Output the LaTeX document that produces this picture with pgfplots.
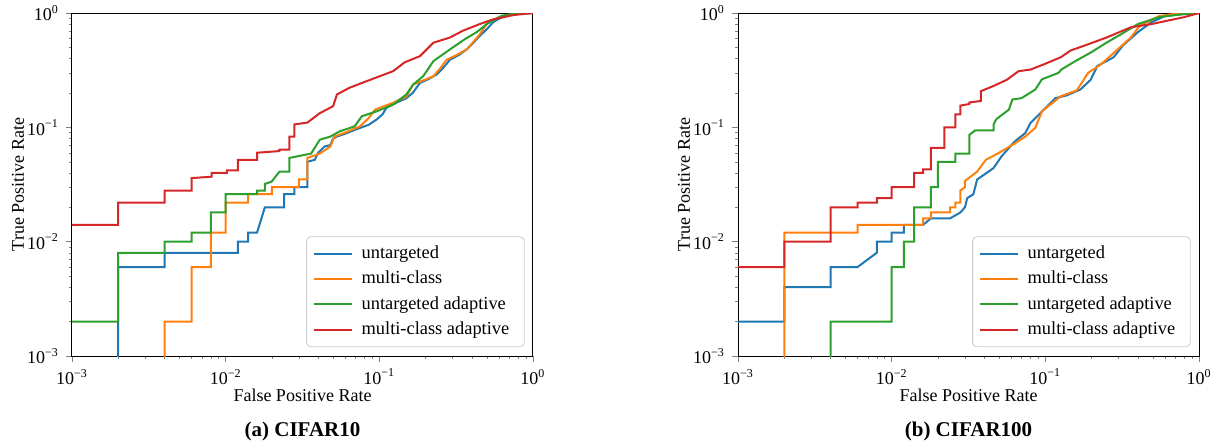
\documentclass[border=0pt]{standalone}
\usepackage{fontspec}
\setmainfont{Liberation Serif}
\usepackage{pgfplots}
\pgfplotsset{compat=1.18}

\definecolor{c0}{HTML}{1F77B4}
\definecolor{c1}{HTML}{FF7F0E}
\definecolor{c2}{HTML}{2CA02C}
\definecolor{c3}{HTML}{D62728}

\newcommand{\logtick}{%
  \pgfmathtruncatemacro{\e}{round(\tick/2.302585)}%
  10\textsuperscript{\ifnum\e<0 −\the\numexpr-\e\relax\else\e\fi}}

\pgfplotsset{
  legend image code/.code={\draw[#1] (0pt,0pt) -- (19pt,0pt);},
  every axis/.append style={
    scale only axis, width=230.5pt, height=171.5pt,
    xmin=1e-3, xmax=1, ymin=1e-3, ymax=1,
    clip mode=individual,
    tick pos=left, tick align=outside,
    major tick length=3pt, minor tick length=1.5pt,
    axis line style={line width=0.5pt},
    font=\fontsize{9}{11}\selectfont,
    xticklabel={\logtick}, yticklabel={\logtick},
    xlabel={False Positive Rate}, ylabel={True Positive Rate},
    xlabel style={at={(axis description cs:0.5,-0.114)}, anchor=center},
    ylabel style={at={(axis description cs:-0.117,0.5)}, anchor=center},
    legend style={at={(0.982,0.026)}, anchor=south east, draw=black!20,
      rounded corners=2pt, fill=white, font=\fontsize{9.2}{11}\selectfont,
      inner xsep=3pt, inner ysep=2.5pt, row sep=0.8pt,
      nodes={inner xsep=4.5pt}},
    legend cell align=left,
  },
  every axis plot/.append style={line width=1pt, mark=none},
}

\begin{document}
\begin{tikzpicture}
\path[use as bounding box] (-36pt,-45.5pt) rectangle (573pt,178pt);

\begin{loglogaxis}[at={(0pt,0pt)}, anchor=south west]
\addplot[c0] coordinates {(0.002,1e-4)(0.002,0.006)(0.004,0.006)(0.004,0.008)(0.012,0.008)(0.012,0.010)(0.014,0.010)(0.014,0.012)(0.016,0.012)(0.018,0.020)(0.024,0.020)(0.024,0.026)(0.028,0.026)(0.028,0.030)(0.034,0.030)(0.034,0.050)(0.038,0.052)(0.040,0.060)(0.044,0.068)(0.048,0.070)(0.050,0.080)(0.053,0.083)(0.06,0.088)(0.075,0.099)(0.085,0.105)(0.096,0.117)(0.105,0.13)(0.111,0.148)(0.13,0.165)(0.150,0.18)(0.165,0.20)(0.184,0.245)(0.21,0.265)(0.236,0.29)(0.26,0.33)(0.288,0.39)(0.33,0.43)(0.37,0.48)(0.41,0.55)(0.45,0.63)(0.50,0.72)(0.55,0.83)(0.60,0.89)(0.67,0.95)(0.8,0.98)(1,1)};
\addlegendentry{untargeted}
\addplot[c1] coordinates {(0.004,1e-4)(0.004,0.002)(0.006,0.002)(0.006,0.006)(0.008,0.006)(0.008,0.012)(0.010,0.012)(0.010,0.022)(0.014,0.022)(0.014,0.026)(0.020,0.026)(0.020,0.030)(0.030,0.030)(0.030,0.035)(0.034,0.035)(0.034,0.054)(0.041,0.059)(0.048,0.068)(0.051,0.083)(0.06,0.09)(0.0748,0.102)(0.085,0.12)(0.094,0.143)(0.11,0.155)(0.123,0.164)(0.150,0.186)(0.166,0.237)(0.19,0.255)(0.225,0.28)(0.25,0.33)(0.274,0.39)(0.32,0.43)(0.37,0.48)(0.41,0.56)(0.45,0.65)(0.51,0.83)(0.58,0.90)(0.67,0.96)(0.8,0.99)(1,1)};
\addlegendentry{multi-class}
\addplot[c2] coordinates {(0.001,0.002)(0.002,0.002)(0.002,0.008)(0.004,0.008)(0.004,0.010)(0.006,0.010)(0.006,0.012)(0.008,0.012)(0.008,0.018)(0.010,0.018)(0.010,0.026)(0.016,0.026)(0.016,0.028)(0.018,0.028)(0.018,0.032)(0.0199,0.0335)(0.0224,0.041)(0.026,0.041)(0.026,0.054)(0.036,0.059)(0.041,0.078)(0.048,0.083)(0.055,0.092)(0.069,0.102)(0.077,0.125)(0.096,0.138)(0.123,0.158)(0.150,0.194)(0.166,0.237)(0.193,0.28)(0.225,0.38)(0.288,0.48)(0.36,0.59)(0.43,0.68)(0.50,0.80)(0.63,0.95)(0.8,0.99)(1,1)};
\addlegendentry{untargeted adaptive}
\addplot[c3] coordinates {(0.001,0.014)(0.002,0.014)(0.002,0.022)(0.004,0.022)(0.004,0.028)(0.006,0.028)(0.006,0.036)(0.0081,0.037)(0.0081,0.040)(0.0102,0.040)(0.0102,0.042)(0.012,0.042)(0.012,0.052)(0.016,0.052)(0.016,0.060)(0.0224,0.062)(0.0224,0.064)(0.026,0.064)(0.026,0.083)(0.028,0.083)(0.028,0.106)(0.034,0.11)(0.041,0.133)(0.050,0.153)(0.053,0.194)(0.064,0.222)(0.087,0.26)(0.123,0.31)(0.146,0.37)(0.184,0.42)(0.225,0.55)(0.288,0.61)(0.35,0.70)(0.45,0.80)(0.55,0.88)(0.75,0.96)(1,1)};
\addlegendentry{multi-class adaptive}
\node[font=\fontsize{10.5}{12}\selectfont\bfseries] at (rel axis cs:0.5,0) [yshift=-37.5pt] {(a) CIFAR10};
\end{loglogaxis}

\begin{loglogaxis}[at={(333pt,0pt)}, anchor=south west]
\addplot[c0] coordinates {(0.001,0.002)(0.002,0.002)(0.002,0.004)(0.004,0.004)(0.004,0.006)(0.006,0.006)(0.008,0.008)(0.008,0.010)(0.010,0.010)(0.010,0.012)(0.012,0.012)(0.012,0.014)(0.016,0.014)(0.018,0.016)(0.024,0.016)(0.028,0.018)(0.030,0.020)(0.031,0.024)(0.034,0.026)(0.036,0.035)(0.046,0.044)(0.052,0.056)(0.063,0.075)(0.074,0.089)(0.080,0.109)(0.098,0.143)(0.116,0.18)(0.137,0.19)(0.169,0.214)(0.197,0.26)(0.218,0.344)(0.278,0.41)(0.32,0.52)(0.40,0.68)(0.49,0.83)(0.60,0.94)(0.8,0.98)(1,1)};
\addlegendentry{untargeted}
\addplot[c1] coordinates {(0.002,1e-4)(0.002,0.012)(0.006,0.012)(0.006,0.014)(0.016,0.014)(0.016,0.016)(0.018,0.016)(0.018,0.018)(0.024,0.018)(0.024,0.020)(0.026,0.020)(0.026,0.022)(0.028,0.022)(0.028,0.028)(0.030,0.030)(0.030,0.034)(0.036,0.041)(0.041,0.052)(0.049,0.059)(0.063,0.072)(0.074,0.083)(0.086,0.099)(0.095,0.138)(0.126,0.187)(0.16,0.21)(0.19,0.30)(0.23,0.355)(0.29,0.47)(0.36,0.61)(0.41,0.77)(0.55,0.94)(0.75,1)(1,1)};
\addlegendentry{multi-class}
\addplot[c2] coordinates {(0.004,1e-4)(0.004,0.002)(0.010,0.002)(0.010,0.006)(0.012,0.006)(0.012,0.010)(0.014,0.010)(0.014,0.020)(0.018,0.020)(0.018,0.030)(0.020,0.030)(0.020,0.050)(0.026,0.050)(0.026,0.059)(0.032,0.059)(0.032,0.086)(0.035,0.094)(0.046,0.094)(0.046,0.106)(0.048,0.118)(0.058,0.143)(0.061,0.175)(0.070,0.18)(0.086,0.214)(0.095,0.263)(0.122,0.30)(0.127,0.32)(0.157,0.38)(0.197,0.45)(0.25,0.55)(0.31,0.65)(0.40,0.80)(0.55,0.92)(0.75,0.97)(1,1)};
\addlegendentry{untargeted adaptive}
\addplot[c3] coordinates {(0.001,0.006)(0.002,0.006)(0.002,0.010)(0.004,0.010)(0.004,0.020)(0.006,0.020)(0.006,0.022)(0.008,0.022)(0.008,0.024)(0.010,0.024)(0.010,0.030)(0.014,0.030)(0.014,0.040)(0.016,0.040)(0.016,0.043)(0.018,0.043)(0.018,0.066)(0.022,0.066)(0.022,0.10)(0.026,0.10)(0.026,0.13)(0.028,0.13)(0.028,0.155)(0.032,0.160)(0.032,0.165)(0.038,0.170)(0.038,0.207)(0.046,0.23)(0.056,0.26)(0.067,0.31)(0.08,0.32)(0.098,0.356)(0.126,0.41)(0.146,0.47)(0.188,0.53)(0.25,0.61)(0.36,0.75)(0.49,0.80)(0.80,0.92)(1,1)};
\addlegendentry{multi-class adaptive}
\node[font=\fontsize{10.5}{12}\selectfont\bfseries] at (rel axis cs:0.5,0) [yshift=-37.5pt] {(b) CIFAR100};
\end{loglogaxis}
\end{tikzpicture}
\end{document}
